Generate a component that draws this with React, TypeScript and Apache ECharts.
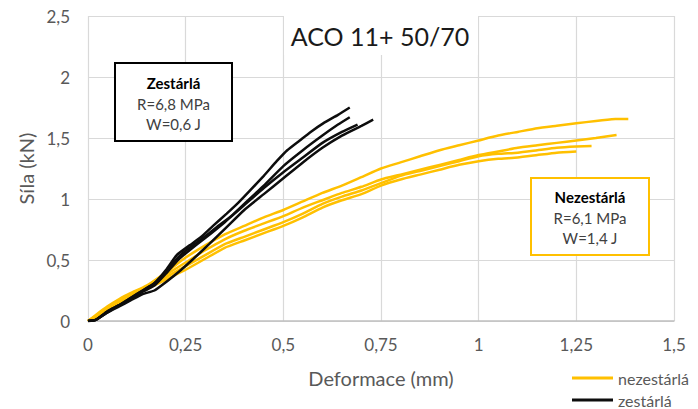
import React, { useEffect, useRef } from 'react';
import * as echarts from 'echarts';

const xTickLabels = ['0', '0,25', '0,5', '0,75', '1', '1,25', '1,5'];
const yTickLabels = ['0', '0,5', '1', '1,5', '2', '2,5'];
const seriesNames = ['nezestárlá', 'zestárlá'];
const titleText = 'ACO 11+ 50/70';
const xAxisName = 'Deformace (mm)';
const yAxisName = 'Síla (kN)';
const agedNote = ['Zestárlá', 'R=6,8 MPa', 'W=0,6 J'];
const unagedNote = ['Nezestárlá', 'R=6,1 MPa', 'W=1,4 J'];

const yellow1 = [[0,0],[0.02,0.05],[0.05,0.12],[0.08,0.18],[0.11,0.23],[0.15,0.29],[0.2,0.4],[0.25,0.52],[0.3,0.62],[0.35,0.71],[0.4,0.78],[0.45,0.85],[0.5,0.91],[0.55,0.98],[0.6,1.05],[0.65,1.11],[0.7,1.18],[0.75,1.25],[0.8,1.3],[0.85,1.35],[0.9,1.4],[0.95,1.44],[1.0,1.48],[1.05,1.52],[1.1,1.55],[1.15,1.58],[1.2,1.6],[1.25,1.62],[1.3,1.64],[1.35,1.655],[1.383,1.656]];
const yellow2 = [[0,0],[0.02,0.04],[0.05,0.11],[0.08,0.17],[0.11,0.22],[0.15,0.28],[0.2,0.38],[0.25,0.48],[0.3,0.58],[0.35,0.67],[0.4,0.74],[0.45,0.8],[0.5,0.86],[0.55,0.93],[0.6,0.99],[0.65,1.05],[0.7,1.1],[0.75,1.16],[0.8,1.2],[0.85,1.24],[0.9,1.28],[0.95,1.32],[1.0,1.36],[1.05,1.39],[1.1,1.42],[1.15,1.44],[1.2,1.46],[1.25,1.48],[1.3,1.5],[1.353,1.525]];
const yellow3 = [[0,0],[0.02,0.04],[0.05,0.1],[0.08,0.16],[0.11,0.21],[0.15,0.27],[0.2,0.36],[0.25,0.45],[0.3,0.54],[0.35,0.63],[0.4,0.69],[0.45,0.75],[0.5,0.81],[0.55,0.88],[0.6,0.96],[0.65,1.02],[0.7,1.07],[0.75,1.13],[0.8,1.19],[0.85,1.23],[0.9,1.27],[0.95,1.31],[1.0,1.35],[1.05,1.37],[1.1,1.38],[1.15,1.4],[1.2,1.42],[1.25,1.43],[1.289,1.434]];
const yellow4 = [[0,0],[0.02,0.03],[0.05,0.09],[0.08,0.15],[0.11,0.2],[0.15,0.26],[0.2,0.34],[0.25,0.42],[0.3,0.51],[0.35,0.6],[0.4,0.66],[0.45,0.72],[0.5,0.78],[0.55,0.85],[0.6,0.93],[0.65,0.99],[0.7,1.04],[0.75,1.11],[0.8,1.16],[0.85,1.2],[0.9,1.24],[0.95,1.28],[1.0,1.31],[1.05,1.33],[1.1,1.34],[1.15,1.36],[1.2,1.38],[1.25,1.39]];

const black1 = [[0,0],[0.02,0.01],[0.05,0.08],[0.08,0.13],[0.11,0.19],[0.14,0.25],[0.17,0.31],[0.2,0.42],[0.227,0.54],[0.26,0.62],[0.29,0.69],[0.32,0.78],[0.355,0.88],[0.385,0.97],[0.415,1.07],[0.45,1.19],[0.483,1.31],[0.51,1.4],[0.542,1.48],[0.57,1.55],[0.602,1.62],[0.64,1.69],[0.67,1.75]];
const black2 = [[0,0],[0.02,0.01],[0.05,0.08],[0.08,0.13],[0.11,0.19],[0.14,0.25],[0.17,0.31],[0.2,0.41],[0.23,0.52],[0.26,0.6],[0.29,0.67],[0.33,0.77],[0.37,0.87],[0.4,0.96],[0.45,1.11],[0.5,1.27],[0.55,1.4],[0.6,1.52],[0.64,1.61],[0.67,1.67]];
const black3 = [[0,0],[0.02,0.01],[0.05,0.07],[0.08,0.13],[0.11,0.18],[0.14,0.24],[0.17,0.29],[0.2,0.39],[0.23,0.5],[0.26,0.58],[0.3,0.68],[0.35,0.81],[0.4,0.95],[0.45,1.09],[0.5,1.22],[0.55,1.34],[0.6,1.46],[0.65,1.55],[0.69,1.61]];
const black4 = [[0,0],[0.02,0.01],[0.05,0.07],[0.08,0.12],[0.11,0.17],[0.14,0.22],[0.17,0.25],[0.2,0.32],[0.235,0.41],[0.27,0.51],[0.31,0.63],[0.355,0.77],[0.4,0.91],[0.45,1.04],[0.5,1.17],[0.55,1.3],[0.6,1.42],[0.65,1.52],[0.7,1.6],[0.73,1.65]];

const FONT = 'Lato';
const YELLOW = '#FFC000';
const BLACK = '#0d0d0d';

export default function App() {
  const ref = useRef<HTMLDivElement>(null);
  useEffect(() => {
    const chart = echarts.init(ref.current as HTMLDivElement, null, { renderer: 'svg' });
    const mk = (name: string, data: number[][], color: string) => ({
      name,
      type: 'line',
      data,
      showSymbol: false,
      smooth: 0.15,
      lineStyle: { color, width: 2.5 },
      itemStyle: { color },
      emphasis: { disabled: true },
    });
    const noteText = (lines: string[], cx: number, ys: number[], fill: string) =>
      lines.map((t, i) => ({
        type: 'text',
        z: 102,
        style: {
          text: t,
          x: cx,
          y: ys[i],
          fill: i === 0 ? '#000' : fill,
          fontFamily: FONT,
          fontSize: 15,
          fontWeight: i === 0 ? 'bold' : 'normal',
          align: 'center',
          verticalAlign: 'middle',
          textAlign: 'center',
          textVerticalAlign: 'middle',
        },
      }));
    const legendBase = {
      orient: 'vertical',
      left: 572,
      icon: 'rect',
      itemWidth: 41,
      itemHeight: 3,
      padding: 0,
      textStyle: { fontFamily: FONT, fontSize: 16, color: '#595959' },
    };
    chart.setOption({
      animation: false,
      textStyle: { fontFamily: FONT },
      grid: { left: 88, right: 24, top: 16, bottom: 88, containLabel: false },
      legend: [
        { ...legendBase, data: [seriesNames[0]], top: 370 },
        { ...legendBase, data: [seriesNames[1]], top: 392 },
      ],
      xAxis: {
        type: 'value',
        min: 0,
        max: 1.5,
        interval: 0.25,
        name: xAxisName,
        nameLocation: 'middle',
        nameGap: 47,
        nameTextStyle: { fontFamily: FONT, fontSize: 20, color: '#595959' },
        axisLine: { show: true, lineStyle: { color: '#bfbfbf', width: 1.5 } },
        axisTick: { show: false },
        axisLabel: {
          fontSize: 17,
          color: '#595959',
          margin: 15,
          formatter: (v: number) => xTickLabels[Math.round(v / 0.25)],
        },
        splitLine: { show: true, lineStyle: { color: '#d9d9d9', width: 1.2 } },
      },
      yAxis: {
        type: 'value',
        min: 0,
        max: 2.5,
        interval: 0.5,
        name: yAxisName,
        nameLocation: 'middle',
        nameGap: 42,
        nameTextStyle: { fontFamily: FONT, fontSize: 20, color: '#595959' },
        axisLine: { show: false },
        axisTick: { show: false },
        axisLabel: {
          fontSize: 17,
          color: '#595959',
          margin: 18,
          formatter: (v: number) => yTickLabels[Math.round(v / 0.5)],
        },
        splitLine: { show: true, lineStyle: { color: '#d9d9d9', width: 1.2 } },
      },
      series: [
        mk(seriesNames[0], yellow1, YELLOW),
        mk(seriesNames[0], yellow2, YELLOW),
        mk(seriesNames[0], yellow3, YELLOW),
        mk(seriesNames[0], yellow4, YELLOW),
        mk(seriesNames[1], black1, BLACK),
        mk(seriesNames[1], black2, BLACK),
        mk(seriesNames[1], black3, BLACK),
        mk(seriesNames[1], black4, BLACK),
      ],
      graphic: [
        { type: 'rect', z: 100, shape: { x: 284, y: 8, width: 194, height: 47 }, style: { fill: '#fff' } },
        {
          type: 'text',
          z: 101,
          style: {
            text: titleText,
            x: 380,
            y: 36,
            fill: '#1a1a1a',
            fontFamily: FONT,
            fontSize: 25,
            align: 'center',
            verticalAlign: 'middle',
            textAlign: 'center',
            textVerticalAlign: 'middle',
          },
        },
        { type: 'rect', z: 100, shape: { x: 115, y: 63, width: 117, height: 78 }, style: { fill: '#fff', stroke: '#000', lineWidth: 2 } },
        ...noteText(agedNote, 173.5, [83, 104, 124], '#404040'),
        { type: 'rect', z: 100, shape: { x: 531, y: 178, width: 118, height: 77 }, style: { fill: '#fff', stroke: YELLOW, lineWidth: 2 } },
        ...noteText(unagedNote, 590, [197, 218, 238], '#404040'),
      ],
    });
    return () => chart.dispose();
  }, []);
  return <div ref={ref} style={{ position: 'absolute', left: 0, top: 0, width: 698, height: 409 }} />;
}
